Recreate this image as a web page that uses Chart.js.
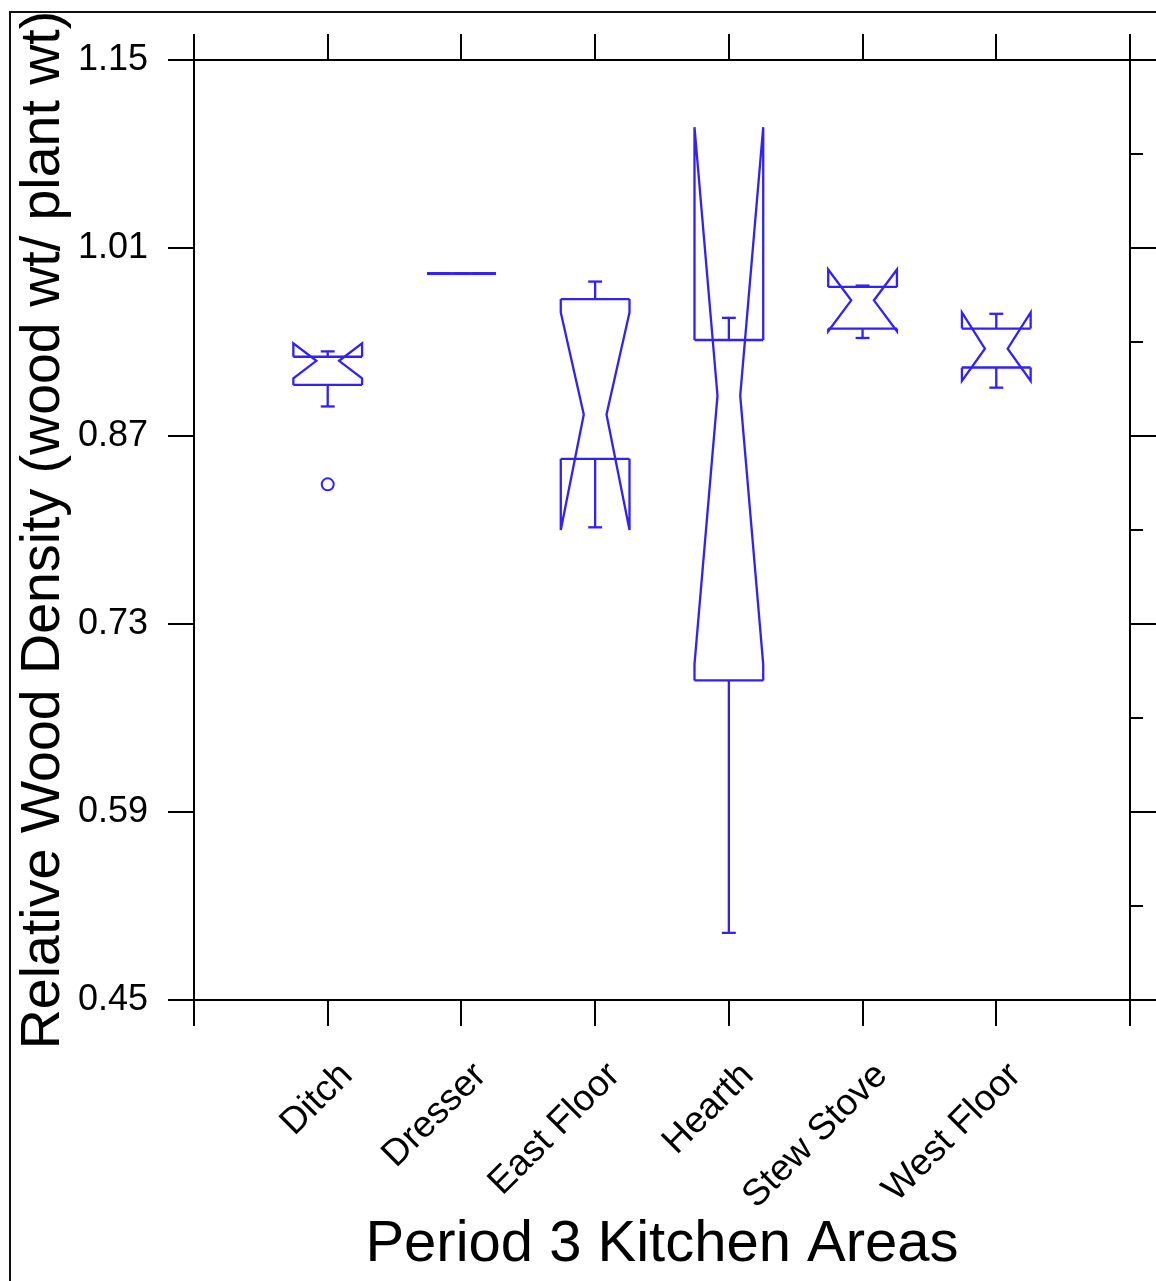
<!DOCTYPE html>
<html>
<head>
<meta charset="utf-8">
<title>Period 3 Kitchen Areas - Relative Wood Density</title>
<script src="https://cdn.jsdelivr.net/npm/chart.js@4.4.1/dist/chart.umd.min.js"></script>
<style>
  html, body { margin: 0; padding: 0; background: #fff; overflow: hidden; }
  #frame { position: absolute; left: 9px; top: 11px; width: 1200px; height: 1320px; border: 2px solid #111; }
  #wrap { position: absolute; left: 0; top: 0; width: 1156px; height: 1281px; }
</style>
</head>
<body>
<div id="frame"></div>
<div id="wrap"><canvas id="chart" width="1156" height="1281"></canvas></div>
<script>
// Kitchen areas (categories on the x axis, placed at 1..6)
const categories = ['Ditch', 'Dresser', 'East Floor', 'Hearth', 'Stew Stove', 'West Floor'];

// Notched box-plot statistics per area
const whiskerLow  = [0.892, 0.991, 0.802, 0.500, 0.943, 0.906];
const lowerHinge  = [0.908, 0.991, 0.853, 0.688, 0.950, 0.921];
const notchLow    = [0.913, 0.991, 0.800, 0.700, 0.948, 0.911];
const medians     = [0.926, 0.991, 0.886, 0.900, 0.971, 0.935];
const notchHigh   = [0.939, 0.991, 0.962, 1.100, 0.994, 0.962];
const upperHinge  = [0.929, 0.991, 0.972, 0.9415, 0.981, 0.950];
const whiskerHigh = [0.933, 0.991, 0.985, 0.958, 0.982, 0.961];
const outliers    = [[0.834], [], [], [], [], []];

// Value axis ticks
const yTickValues = [0.45, 0.59, 0.73, 0.87, 1.01, 1.15];
const yTickLabels = ['0.45', '0.59', '0.73', '0.87', '1.01', '1.15'];
const yMinorTicks = [0.52, 0.66, 0.80, 0.94, 1.08];

const BLUE = 'rgb(50, 32, 250)';
const BOX_HALF = 0.257;   // half box width, in category units
const NOTCH_HALF = 0.085; // half width at the median notch
const CAP_HALF = 0.052;   // whisker cap half width
const FONT = "'Liberation Sans', Arial, sans-serif";

// Build the outline segments of each notched box
const datasets = [];
function seg(points) {
  datasets.push({
    type: 'scatter', showLine: true, data: points,
    borderColor: BLUE, borderWidth: 2.3, pointRadius: 0, tension: 0,
    fill: false, clip: false
  });
}
categories.forEach((name, i) => {
  const x = i + 1;
  const q1 = lowerHinge[i], q3 = upperHinge[i], md = medians[i];
  const nl = notchLow[i], nh = notchHigh[i];
  [-1, 1].forEach(side => {
    seg([
      { x: x + side * BOX_HALF, y: q1 },
      { x: x + side * BOX_HALF, y: nl },
      { x: x + side * NOTCH_HALF, y: md },
      { x: x + side * BOX_HALF, y: nh },
      { x: x + side * BOX_HALF, y: q3 }
    ]);
  });
  seg([{ x: x - BOX_HALF, y: q1 }, { x: x + BOX_HALF, y: q1 }]);
  seg([{ x: x - BOX_HALF, y: q3 }, { x: x + BOX_HALF, y: q3 }]);
  seg([{ x: x, y: q3 }, { x: x, y: whiskerHigh[i] }]);
  seg([{ x: x - CAP_HALF, y: whiskerHigh[i] }, { x: x + CAP_HALF, y: whiskerHigh[i] }]);
  seg([{ x: x, y: q1 }, { x: x, y: whiskerLow[i] }]);
  seg([{ x: x - CAP_HALF, y: whiskerLow[i] }, { x: x + CAP_HALF, y: whiskerLow[i] }]);
});

// Outside values as open circles
const outlierPoints = [];
outliers.forEach((vals, i) => vals.forEach(v => outlierPoints.push({ x: i + 1, y: v })));
datasets.push({
  type: 'scatter', data: outlierPoints, showLine: false,
  pointStyle: 'circle', pointRadius: 6, borderColor: BLUE, borderWidth: 2,
  backgroundColor: 'rgba(0,0,0,0)', clip: false
});

// Short minor tick marks on the right-hand frame
const minorTicks = {
  id: 'minorTicks',
  afterDraw(chart) {
    const s = chart.scales.y2;
    const ctx = chart.ctx;
    ctx.save();
    ctx.strokeStyle = '#000';
    ctx.lineWidth = 2;
    yMinorTicks.forEach(v => {
      const py = Math.round(s.getPixelForValue(v));
      ctx.beginPath();
      ctx.moveTo(s.left, py);
      ctx.lineTo(s.left + 13, py);
      ctx.stroke();
    });
    ctx.restore();
  }
};

const frameGrid = { display: true, drawOnChartArea: false, drawTicks: true, tickLength: 26, color: '#000', lineWidth: 2 };
const frameBorder = { display: true, color: '#000', width: 2 };
const categoryTicks = s => { s.ticks = [0, 1, 2, 3, 4, 5, 6, 7].map(v => ({ value: v })); };
// fixed box sizes so the plot frame lands at the same place every time
const fixSize = (prop, size) => s => {
  s[prop] = size;
  s.paddingLeft = 0; s.paddingRight = 0; s.paddingTop = 0; s.paddingBottom = 0;
};

new Chart(document.getElementById('chart'), {
  type: 'scatter',
  data: { datasets },
  plugins: [minorTicks],
  options: {
    responsive: false,
    animation: false,
    events: [],
    layout: { padding: 0 },
    plugins: { legend: { display: false }, tooltip: { enabled: false } },
    scales: {
      x: {
        type: 'linear', position: 'bottom', min: 0, max: 7,
        afterBuildTicks: categoryTicks,
        afterFit: fixSize('height', 281),
        grid: frameGrid, border: frameBorder,
        ticks: {
          autoSkip: false, minRotation: 45, maxRotation: 45, padding: 28, labelOffset: 19,
          color: '#000', font: { family: FONT, size: 37 },
          callback: v => categories[v - 1] || ''
        },
        title: {
          display: true, text: 'Period 3 Kitchen Areas', color: '#000',
          font: { family: FONT, size: 58 }, padding: { top: 0, bottom: 1 }
        }
      },
      x2: {
        type: 'linear', position: 'top', min: 0, max: 7,
        afterBuildTicks: categoryTicks,
        afterFit: fixSize('height', 60),
        grid: frameGrid, border: frameBorder,
        ticks: { display: false }
      },
      y: {
        type: 'linear', position: 'left', min: 0.45, max: 1.15,
        afterBuildTicks: s => { s.ticks = yTickValues.map(v => ({ value: v })); },
        afterFit: fixSize('width', 194),
        grid: frameGrid, border: frameBorder,
        ticks: {
          padding: 20, color: '#000', font: { family: FONT, size: 36 },
          callback: (v, idx) => yTickLabels[idx]
        },
        title: {
          display: true, text: 'Relative Wood Density (wood wt/ plant wt)', color: '#000',
          font: { family: FONT, size: 55.5 }, padding: { top: 10, bottom: 0 }
        }
      },
      y2: {
        type: 'linear', position: 'right', min: 0.45, max: 1.15,
        afterBuildTicks: s => { s.ticks = yTickValues.map(v => ({ value: v })); },
        afterFit: fixSize('width', 26),
        grid: frameGrid, border: frameBorder,
        ticks: { display: false }
      }
    }
  }
});
</script>
</body>
</html>
